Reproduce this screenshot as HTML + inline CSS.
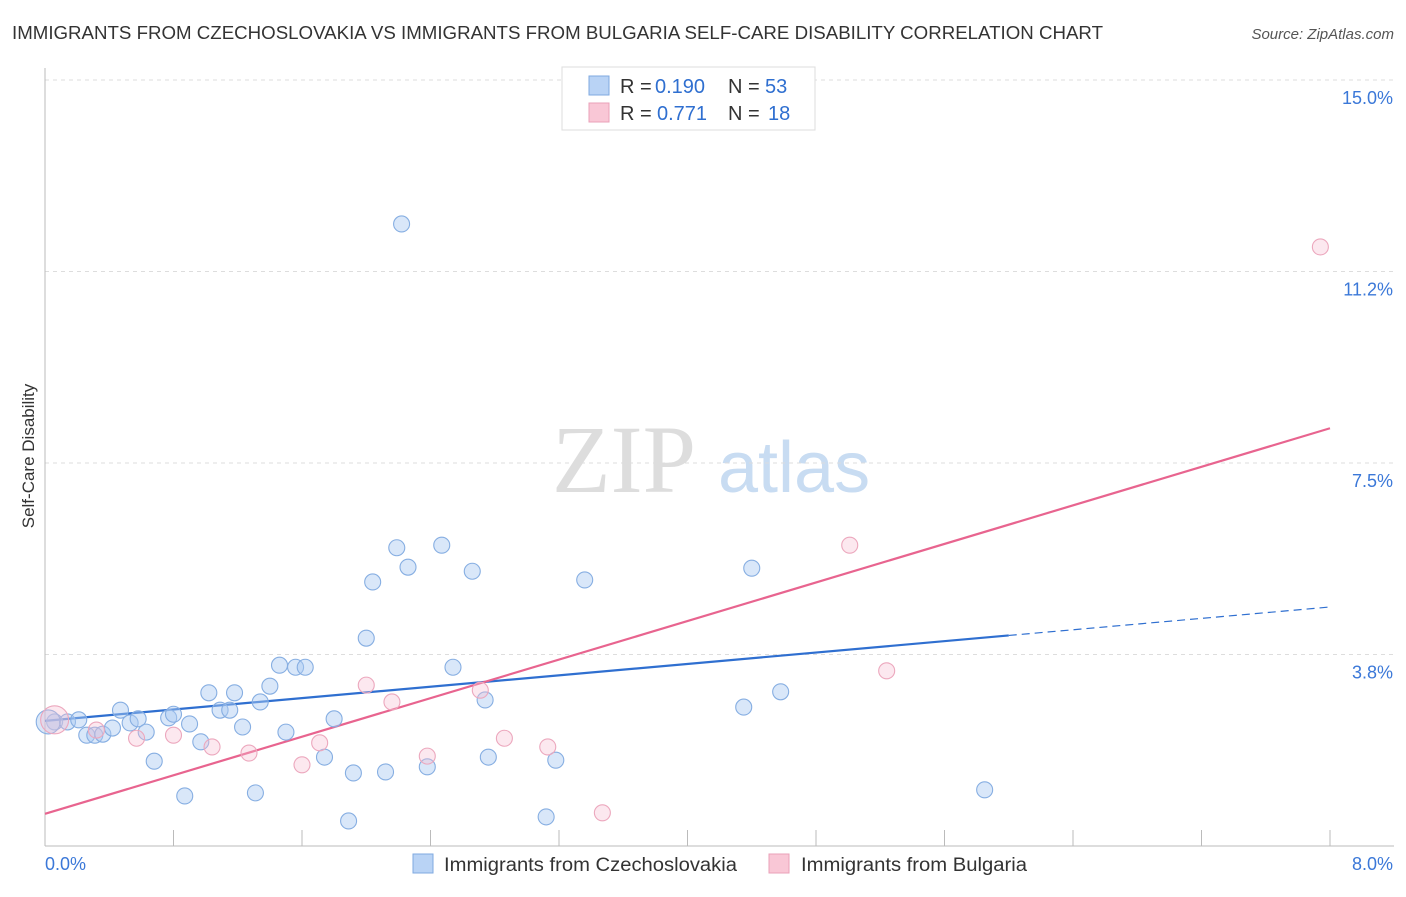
<!DOCTYPE html>
<html><head><meta charset="utf-8"><style>
body{margin:0;background:#fff;font-family:"Liberation Sans",sans-serif;}
</style></head><body>
<svg width="1406" height="892" xmlns="http://www.w3.org/2000/svg" font-family="Liberation Sans, sans-serif">
<text x="12" y="39" font-size="18" fill="#333" textLength="1091" lengthAdjust="spacingAndGlyphs">IMMIGRANTS FROM CZECHOSLOVAKIA VS IMMIGRANTS FROM BULGARIA SELF-CARE DISABILITY CORRELATION CHART</text>
<text x="1394" y="39" font-size="15" fill="#555" font-style="italic" text-anchor="end">Source: ZipAtlas.com</text>
<g><text x="552" y="492" font-size="96" fill="#ddd" font-family="Liberation Serif, serif">ZIP</text><text x="718" y="492" font-size="72" fill="#c8dcf2">atlas</text></g>
<g id="grid"></g><g id="axes"></g><g id="lines"></g><g id="pts"></g>
<text transform="translate(34,456) rotate(-90)" font-size="17" fill="#333" text-anchor="middle">Self-Care Disability</text>
<g>
<rect x="562" y="67" width="253" height="63" fill="#fff" stroke="#ddd"/>
<rect x="589" y="76" width="20" height="19" fill="#b9d3f5" stroke="#7fa9e0"/>
<rect x="589" y="103" width="20" height="19" fill="#f9c7d6" stroke="#eaa0b8"/>
<text x="620" y="93" font-size="20" fill="#333">R =</text><text x="655" y="93" font-size="20" fill="#2f6fd0">0.190</text>
<text x="728" y="93" font-size="20" fill="#333">N =</text><text x="765" y="93" font-size="20" fill="#2f6fd0">53</text>
<text x="620" y="120" font-size="20" fill="#333">R =</text><text x="657" y="120" font-size="20" fill="#2f6fd0">0.771</text>
<text x="728" y="120" font-size="20" fill="#333">N =</text><text x="768" y="120" font-size="20" fill="#2f6fd0">18</text>
</g>
<g>
<rect x="413" y="854" width="20" height="19" fill="#b9d3f5" stroke="#7fa9e0"/>
<text x="444" y="871" font-size="19" fill="#333" textLength="293" lengthAdjust="spacingAndGlyphs">Immigrants from Czechoslovakia</text>
<rect x="769" y="854" width="20" height="19" fill="#f9c7d6" stroke="#eaa0b8"/>
<text x="801" y="871" font-size="19" fill="#333" textLength="226" lengthAdjust="spacingAndGlyphs">Immigrants from Bulgaria</text>
</g>
</svg>
<script>
const yTicks=[3.75,7.5,11.25,15.0];
const yTickLabels=["3.8%","7.5%","11.2%","15.0%"];
const xTickLabels=["0.0%","8.0%"];
const blueX=[0.06,0.14,0.21,0.26,0.31,0.36,0.42,0.47,0.53,0.58,0.63,0.68,0.77,0.80,0.87,0.90,0.97,1.02,1.09,1.15,1.18,1.23,1.31,1.34,1.40,1.46,1.50,1.56,1.62,1.74,1.80,1.89,1.92,2.00,2.04,2.12,2.19,2.22,2.26,2.38,2.47,2.54,2.66,2.74,2.76,3.12,3.18,3.36,4.35,4.40,4.58,5.85,0.02];
const blueY=[2.43,2.43,2.47,2.17,2.17,2.19,2.31,2.66,2.41,2.49,2.23,1.66,2.51,2.58,0.98,2.39,2.04,3.00,2.66,2.66,3.00,2.33,1.04,2.82,3.13,3.54,2.23,3.50,3.50,1.74,2.49,0.49,1.43,4.07,5.17,1.45,5.84,12.18,5.46,1.55,5.89,3.50,5.38,2.86,1.74,0.57,1.68,5.21,2.72,5.44,3.02,1.10,2.43];
const pinkX=[0.06,0.32,0.57,0.80,1.04,1.27,1.60,1.71,2.00,2.16,2.38,2.71,2.86,3.13,3.47,5.01,5.24,7.94];
const pinkY=[2.47,2.27,2.11,2.17,1.94,1.82,1.59,2.02,3.15,2.82,1.76,3.05,2.11,1.94,0.65,5.89,3.43,11.73];
const blueTrend=[2.45,4.68];
const pinkTrend=[0.63,8.18];
const NS="http://www.w3.org/2000/svg";
const X=v=>45+v*1285/8, Y=v=>846-v*51.07;
function mk(p,t,a){const e=document.createElementNS(NS,t);for(const k in a)e.setAttribute(k,a[k]);document.getElementById(p).appendChild(e);return e;}
yTicks.forEach((t,i)=>{
 const g=mk('grid','line',{x1:45,x2:1394,y1:Y(t),y2:Y(t),stroke:'#ddd','stroke-dasharray':'4,4'});
 
 
 const l=mk('axes','text',{x:1393,y:Y(t)+24,'font-size':18,fill:'#3b78d8','text-anchor':'end'});
 l.textContent=yTickLabels[i];
 
 
});
const ax=mk('axes','line',{x1:45,x2:45,y1:68,y2:846,stroke:'#bbb'});


const bx=mk('axes','line',{x1:45,x2:1394,y1:846,y2:846,stroke:'#bbb'});


for(let i=0;i<=10;i++){const t=mk('axes','line',{x1:X(i*0.8),x2:X(i*0.8),y1:830,y2:846,stroke:'#bbb'});
 
 }
[[0,'start',45],[8,'end',1393]].forEach((d,i)=>{const l=mk('axes','text',{x:d[2],y:870,'font-size':18,fill:'#3b78d8','text-anchor':d[1]});l.textContent=xTickLabels[i];
 
 });
function bl(v){return blueTrend[0]+(blueTrend[1]-blueTrend[0])*v/8;}
const b1=mk('lines','line',{x1:X(0),y1:Y(bl(0)),x2:X(6),y2:Y(bl(6)),stroke:'#2f6fd0','stroke-width':2.2});


const b2=mk('lines','line',{x1:X(6),y1:Y(bl(6)),x2:X(8),y2:Y(bl(8)),stroke:'#2f6fd0','stroke-width':1.2,'stroke-dasharray':'8,5'});


const p1=mk('lines','line',{x1:X(0),y1:Y(pinkTrend[0]),x2:X(8),y2:Y(pinkTrend[1]),stroke:'#e8648f','stroke-width':2.2});


blueX.forEach((x,i)=>{const c=mk('pts','circle',{cx:X(x),cy:Y(blueY[i]),r:i==blueX.length-1?12:8,fill:'rgba(170,202,242,0.45)',stroke:'#86aee2','stroke-width':1.1});
 
 });
pinkX.forEach((x,i)=>{const c=mk('pts','circle',{cx:X(x),cy:Y(pinkY[i]),r:i==0?14:8,fill:'rgba(247,190,208,0.35)',stroke:'#eca7bd','stroke-width':1.1});
 
 });
</script>
</body></html>
